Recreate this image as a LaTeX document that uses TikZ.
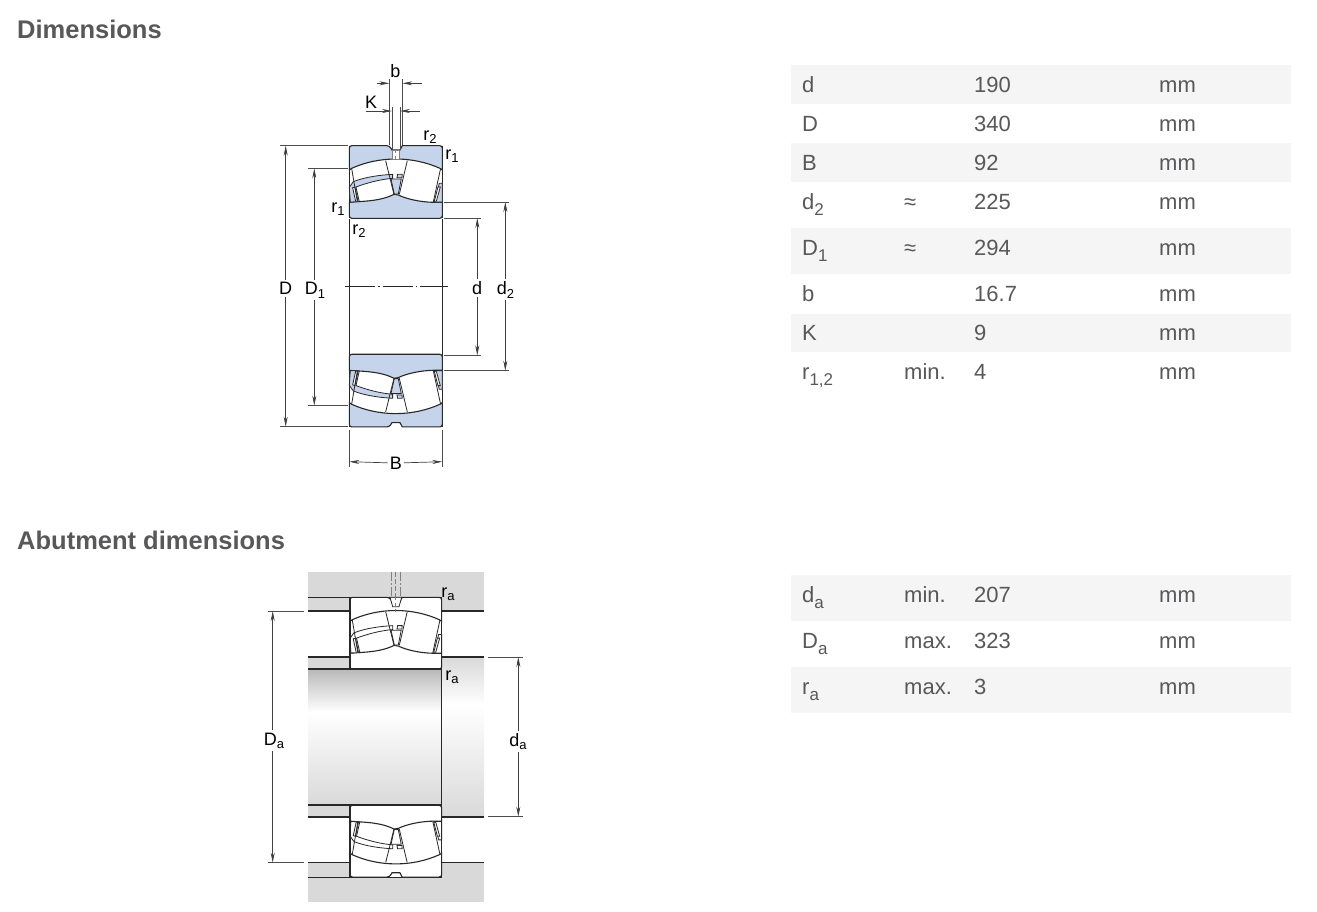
\documentclass[tikz,border=0pt]{standalone}
\usepackage{fontspec}
\setmainfont{Liberation Sans}
\usetikzlibrary{arrows.meta}
\definecolor{ringblue}{RGB}{197,211,235}
\definecolor{txtgrey}{RGB}{88,88,90}
\definecolor{bandgrey}{RGB}{245,245,245}
\definecolor{housegrey}{RGB}{217,217,217}
\definecolor{inkgrey}{RGB}{40,40,40}
\newcommand{\subcell}[1]{\raisebox{-6pt}{\fontsize{17}{17}\selectfont #1}}
\newcommand{\sublab}[1]{\raisebox{-3.5pt}{\fontsize{13}{13}\selectfont #1}}
\tikzset{
  heading/.style={anchor=base west,inner sep=0pt,font=\fontsize{25.5}{25.5}\selectfont\bfseries,text=txtgrey},
  cell/.style={anchor=base west,inner sep=0pt,font=\fontsize{22}{22}\selectfont,text=txtgrey},
  band/.style={fill=bandgrey,draw=none},
  dimlab/.style={anchor=base,inner sep=2pt,font=\fontsize{18}{18}\selectfont,text=black},
  extline/.style={draw=black!70,line width=0.7pt},
  dimarrow/.style={draw=black!75,line width=0.7pt,-{Stealth[length=10pt,width=4pt]}},
  outline/.style={draw=inkgrey,line width=1.1pt},
  thinline/.style={draw=inkgrey,line width=0.8pt},
  holeline/.style={draw=black!50,line width=0.7pt},
  bearingsec/.pic={
    \begin{scope}[shift={(-377.5,-381)}]
    \path[fill=white](238,272) rectangle (517,490);
    \draw[outline](238,272)--(238,490);
    \draw[outline](517,272)--(517,490);
    % outer ring
    \draw[outline,fill=#1](238,345)[rounded corners=2.5pt]--(238,272)--(358,272)[sharp corners]--(366,285)--(390,285)--(397,272)[rounded corners=2.5pt]--(517,272)[sharp corners]--(517,345)--(510,340)
      ..controls (470,322) and (425,312) .. (378,312) ..controls (330,312) and (285,322) .. (245,340)--cycle;
    % inner ring
    \draw[outline,fill=#1](238,442)--(262,440)
      ..controls (310,438) and (345,432) .. (372,418)--(385,420)
      ..controls (410,432) and (450,441) .. (490,442)--(517,442)[rounded corners=2.5pt]--(517,490)--(238,490)[sharp corners]--cycle;
    % cage
    \draw[thinline,fill=#1](238,397)--(250,380)..controls (285,366) and (330,360) .. (368,358)--(368,370)
      ..controls (330,373) and (290,384) .. (258,396)--(268,440)--(241,441)--cycle;
    \draw[thinline,fill=white](248,398)--(255,396)--(264,439)--(257,439)--cycle;
    \draw[thinline,fill=#1](517,385)--(508,385)--(494,441)--(517,441)--cycle;
    \draw[thinline,fill=white](504,396)--(511,396)--(499,439)--(493,439)--cycle;
    % guide ring
    \draw[thinline,fill=#1](383,358)--(397,358)--(396,368)--(381,368)--cycle;
    \draw[thinline,fill=#1](363,372)--(394,372)--(385,417)--(373,417)--cycle;
    % rollers
    \draw[thinline](245,340)--(262,440);
    \draw[thinline](347,317)--(372,418);
    \draw[thinline](412,317)--(388,418);
    \draw[thinline](512,340)--(490,441);
    \end{scope}
  }
}
\begin{document}
\begin{tikzpicture}[x=1pt,y=-1pt]
\useasboundingbox(0,0) rectangle (1317,911);
%
\node[heading](dimhead) at (17,38){Dimensions};
\node[heading](abuthead) at (17,549){Abutment dimensions};
%
% table bands
\path[band](791,65) rectangle (1291,104);
\path[band](791,143) rectangle (1291,182);
\path[band](791,228) rectangle (1291,273.5);
\path[band](791,313.5) rectangle (1291,352);
\path[band](791,575) rectangle (1291,621);
\path[band](791,667) rectangle (1291,713);
%
\node[cell](ca) at (802,92){d};
\node[cell](cav) at (974,92){190};
\node[cell](cau) at (1159,92){mm};
\node[cell](cb) at (802,131){D};
\node[cell](cbv) at (974,131){340};
\node[cell](cbu) at (1159,131){mm};
\node[cell](cc) at (802,170){B};
\node[cell](ccv) at (974,170){92};
\node[cell](ccu) at (1159,170){mm};
\node[cell](cd) at (802,209){d\subcell{2}};
\node[cell](cdm) at (904,209){≈};
\node[cell](cdv) at (974,209){225};
\node[cell](cdu) at (1159,209){mm};
\node[cell](ce) at (802,255){D\subcell{1}};
\node[cell](cem) at (904,255){≈};
\node[cell](cev) at (974,255){294};
\node[cell](ceu) at (1159,255){mm};
\node[cell](cf) at (802,301){b};
\node[cell](cfv) at (974,301){16.7};
\node[cell](cfu) at (1159,301){mm};
\node[cell](cg) at (802,340){K};
\node[cell](cgv) at (974,340){9};
\node[cell](cgu) at (1159,340){mm};
\node[cell](ch) at (802,379){r\subcell{1,2}};
\node[cell](chm) at (904,379){min.};
\node[cell](chv) at (974,379){4};
\node[cell](chu) at (1159,379){mm};
%
\node[cell](ci) at (802,602){d\subcell{a}};
\node[cell](cim) at (904,602){min.};
\node[cell](civ) at (974,602){207};
\node[cell](ciu) at (1159,602){mm};
\node[cell](cj) at (802,648){D\subcell{a}};
\node[cell](cjm) at (904,648){max.};
\node[cell](cjv) at (974,648){323};
\node[cell](cju) at (1159,648){mm};
\node[cell](ck) at (802,694){r\subcell{a}};
\node[cell](ckm) at (904,694){max.};
\node[cell](ckv) at (974,694){3};
\node[cell](cku) at (1159,694){mm};
%
% upper bearing
\draw[outline](349.3,219)--(349.3,355);
\draw[outline](442.3,219)--(442.3,355);
\draw[thinline,dash pattern=on 30pt off 3pt on 1.5pt off 3pt](345,286.5)--(448,286.5);
\pic[shift={(395.8,182)},xscale=0.3333,yscale=0.3333]{bearingsec={ringblue}};
\pic[shift={(395.8,390.6)},xscale=0.3333,yscale=-0.3333]{bearingsec={ringblue}};
% lube hole
\draw[holeline,fill=white](392,150) rectangle (399.3,159.5);
\draw[holeline,dashed](395.6,150)--(395.6,160);
%
\coordinate(Dtop) at (285.7,145.7);
\coordinate(Dbot) at (285.7,426.7);
\coordinate(Dones) at (314.3,168.3);
\coordinate(Donee) at (314.3,405.7);
\coordinate(dtwos) at (505.3,202);
\coordinate(dtwoe) at (505.3,370.7);
\coordinate(dins) at (477.3,218);
\coordinate(dine) at (477.3,355.3);
\coordinate(Bl) at (349.3,461.7);
\coordinate(Br) at (442.3,461.7);
\draw[extline](280,145.7)--(348,145.7);
\draw[extline](280,426.7)--(348,426.7);
\draw[extline](308,168.3)--(348,168.3);
\draw[extline](308,405.7)--(348,405.7);
\draw[extline](444,202)--(509,202);
\draw[extline](444,370.7)--(509,370.7);
\draw[extline](444,218)--(481,218);
\draw[extline](444,355.3)--(481,355.3);
\draw[extline](349.3,430)--(349.3,467);
\draw[extline](442.3,430)--(442.3,467);
\draw[extline](389.3,79)--(389.3,145);
\draw[extline](402.3,79)--(402.3,145);
\draw[extline](392,107)--(392,150);
\draw[extline](400,107)--(400,150);
%
\node[dimlab](Dlab) at (285.7,294.5){D};
\node[dimlab](Donelab) at (315,294.5){D\sublab{1}};
\node[dimlab](dinlab) at (477,294.5){d};
\node[dimlab](dtwolab) at (505.5,294.5){d\sublab{2}};
\node[dimlab](Blab) at (395.8,469){B};
\node[dimlab](blab) at (395.5,77){b};
\node[dimlab](Klab) at (371,108){K};
\node[dimlab](rtwoa) at (430,140){r\sublab{2}};
\node[dimlab](ronea) at (452,159){r\sublab{1}};
\node[dimlab](roneb) at (338,212){r\sublab{1}};
\node[dimlab](rtwob) at (359,234){r\sublab{2}};
%
\draw[dimarrow](Dlab.north)--(Dtop);
\draw[dimarrow](Dlab.south)--(Dbot);
\draw[dimarrow](Donelab.north -| Dones)--(Dones);
\draw[dimarrow](Donelab.south -| Dones)--(Donee);
\draw[dimarrow](dinlab.north -| dins)--(dins);
\draw[dimarrow](dinlab.south -| dins)--(dine);
\draw[dimarrow](dtwolab.north -| dtwos)--(dtwos);
\draw[dimarrow](dtwolab.south -| dtwos)--(dtwoe);
\draw[dimarrow](Blab.west)--(Bl);
\draw[dimarrow](Blab.east)--(Br);
%
\coordinate(bla) at (376.7,83.3);
\coordinate(blb) at (389.3,83.3);
\coordinate(bra) at (421.7,83.3);
\coordinate(brb) at (402.3,83.3);
\coordinate(kla) at (365.7,111);
\coordinate(klb) at (392,111);
\coordinate(kra) at (420,111);
\coordinate(krb) at (400,111);
\draw[dimarrow](bla)--(blb);
\draw[dimarrow](bra)--(brb);
\draw[dimarrow](kla)--(klb);
\draw[dimarrow](kra)--(krb);
%
% lower bearing with housing and shaft
\path[fill=housegrey](308,572) rectangle (484,611);
\path[fill=housegrey](308,862.7) rectangle (484,902);
\path[fill=housegrey](308,657) rectangle (442,669);
\path[fill=housegrey](308,805) rectangle (442,817);
\shade[top color=housegrey!85!black,bottom color=white](308,669) rectangle (442,712);
\shade[top color=white,bottom color=housegrey](308,712) rectangle (442,805);
\shade[top color=housegrey,bottom color=white](442,657) rectangle (484,705);
\shade[top color=white,bottom color=housegrey](442,705) rectangle (484,817);
%
\draw[holeline,dash pattern=on 9pt off 2pt on 2pt off 2pt](391,572)--(391,597);
\draw[holeline,dash pattern=on 9pt off 2pt on 2pt off 2pt](400,572)--(400,597);
\draw[holeline,dash pattern=on 5pt off 2pt](395.5,572)--(395.5,597);
%
\draw[outline](308,597.3)--(350,597.3);
\draw[outline](308,611)--(350,611);
\draw[outline](442,611)--(484,611);
\draw[outline](308,657)--(350,657);
\draw[outline](442,657)--(484,657);
\draw[outline](308,669)--(350,669);
\draw[outline](308,805)--(350,805);
\draw[outline](308,817)--(350,817);
\draw[outline](442,817)--(484,817);
\draw[outline](308,862.7)--(350,862.7);
\draw[outline](442,862.7)--(484,862.7);
\draw[outline](308,877.3)--(350,877.3);
\draw[outline](441.7,669)--(441.7,805);
\draw[outline](441.7,597.3)--(441.7,611);
\draw[outline](441.7,862.7)--(441.7,877.3);
%
\pic[shift={(395.8,633.2)},xscale=0.3287,yscale=0.3289]{bearingsec={white}};
\pic[shift={(395.8,841.2)},xscale=0.3287,yscale=-0.3289]{bearingsec={white}};
\draw[outline](350,597.3) rectangle (441.7,669);
\draw[outline](350,805) rectangle (441.7,877.3);
\draw[thinline,fill=white](390,597.3)--(392.7,606.7)--(399,606.7)--(401.7,597.3)--cycle;
\draw[holeline,dashed](395.6,597.3)--(395.6,612);
%
\node[dimlab](Dalab) at (274,745){D\sublab{a}};
\node[dimlab](dalab) at (518,746){d\sublab{a}};
\node[dimlab](raa) at (448,597){r\sublab{a}};
\node[dimlab](rab) at (452,680){r\sublab{a}};
\coordinate(Datop) at (272.7,611);
\coordinate(Dabot) at (272.7,862.7);
\coordinate(datop) at (518.3,657);
\coordinate(dabot) at (518.3,816.7);
\draw[extline](268,611)--(304,611);
\draw[extline](268,862.7)--(304,862.7);
\draw[extline](488,657)--(523,657);
\draw[extline](488,816.7)--(523,816.7);
\draw[dimarrow](Dalab.north -| Datop)--(Datop);
\draw[dimarrow](Dalab.south -| Datop)--(Dabot);
\draw[dimarrow](dalab.north -| datop)--(datop);
\draw[dimarrow](dalab.south -| datop)--(dabot);
\end{tikzpicture}
\end{document}
